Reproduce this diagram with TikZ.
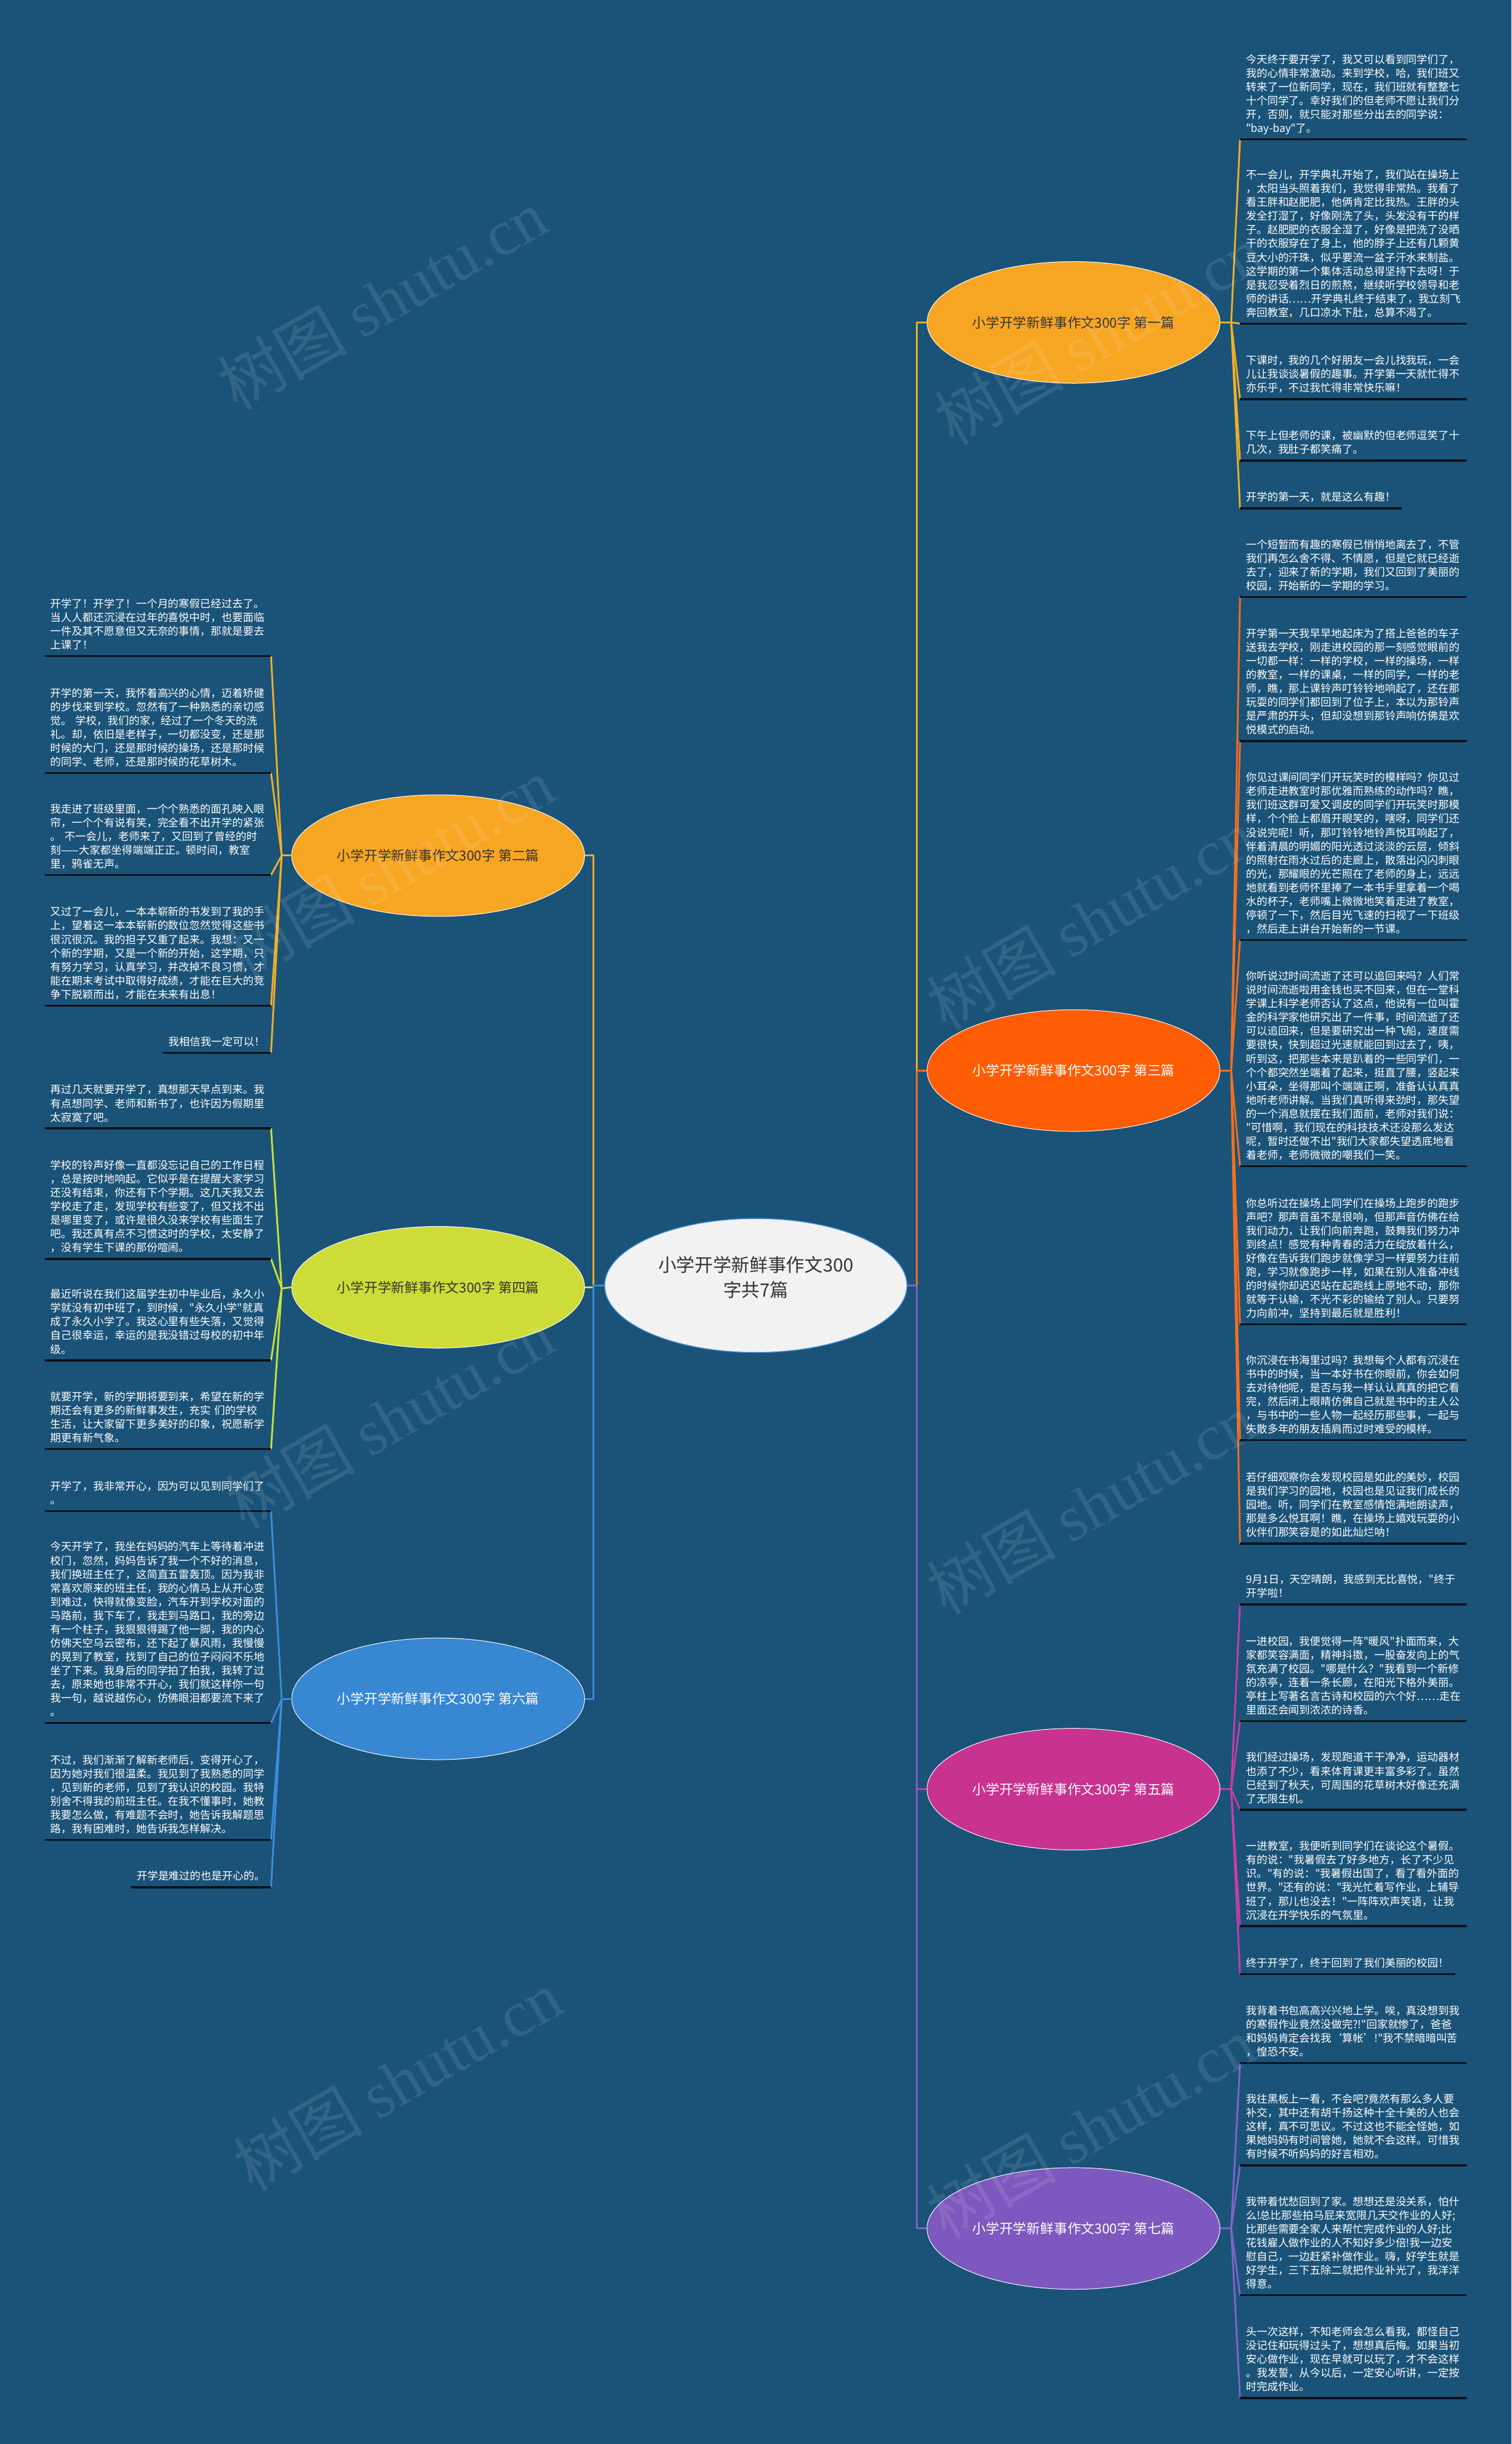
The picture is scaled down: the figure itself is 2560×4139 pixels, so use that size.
\documentclass[tikz,border=0pt]{standalone}
\usepackage{fontspec}
\setmainfont{Noto Sans CJK SC}[Ligatures=TeXOff]
\newfontfamily\wmlatin{Liberation Serif}
\usetikzlibrary{shapes.geometric}

\definecolor{bgblue}{RGB}{27,83,120}
\definecolor{ink}{RGB}{10,18,26}
\definecolor{rootfill}{RGB}{242,242,242}
\definecolor{rootline}{RGB}{60,140,215}
\definecolor{darktext}{RGB}{51,51,51}
\definecolor{fillA}{RGB}{247,166,35}
\definecolor{fillC}{RGB}{255,93,5}
\definecolor{fillD}{RGB}{205,220,57}
\definecolor{fillE}{RGB}{200,50,145}
\definecolor{fillF}{RGB}{55,135,210}
\definecolor{fillG}{RGB}{125,88,190}
\definecolor{lineA}{RGB}{240,175,40}
\definecolor{lineC}{RGB}{245,110,30}
\definecolor{lineD}{RGB}{200,225,60}
\definecolor{lineE}{RGB}{200,60,165}
\definecolor{lineF}{RGB}{60,140,220}
\definecolor{lineG}{RGB}{125,100,200}

\begin{document}
\begin{tikzpicture}[x=1pt, y=-1pt,
  leaf/.style={text=white, align=left, text width=363pt, inner xsep=10pt, inner ysep=7pt,
    font=\fontsize{18.1}{23.3}\selectfont, execute at end node={\rule[-5pt]{0pt}{5pt}}},
  leafone/.style={text=white, inner xsep=10pt, inner ysep=7pt,
    font=\fontsize{18.1}{23.3}\selectfont, execute at end node={\rule[-5pt]{0pt}{5pt}}},
  branch/.style={ellipse, draw=white, line width=1pt, minimum width=496pt, minimum height=206pt,
    inner sep=0pt, font=\fontsize{23}{27}\selectfont},
  root/.style={ellipse, draw=rootline, line width=1.5pt, fill=rootfill, text=darktext,
    minimum width=512pt, minimum height=227pt, align=center, font=\fontsize{31}{42}\selectfont,
    execute at end node={\rule[-30pt]{0pt}{30pt}}},
  conn/.style={line width=3pt, line join=round},
  uline/.style={line width=3.5pt, draw=ink},
  wmark/.style={rotate=30, text=white, opacity=0.1, font=\fontsize{110}{110}\selectfont}
]

  % --- canvas ---
  \useasboundingbox (0,0) rectangle (2560,4139);
  \fill[bgblue] (0,0) rectangle (2560,4139);

  % --- root and branches ---
  \node[root] (root) at (1280,2177) {小学开学新鲜事作文300\\字共7篇};

  \node[branch, fill=fillA, text=darktext] (b1) at (1818,546)  {小学开学新鲜事作文300字 第一篇};
  \node[branch, fill=fillA, text=darktext] (b2) at (742,1449)  {小学开学新鲜事作文300字 第二篇};
  \node[branch, fill=fillC, text=white]    (b3) at (1818,1813) {小学开学新鲜事作文300字 第三篇};
  \node[branch, fill=fillD, text=darktext] (b4) at (742,2180)  {小学开学新鲜事作文300字 第四篇};
  \node[branch, fill=fillE, text=white]    (b5) at (1818,3030) {小学开学新鲜事作文300字 第五篇};
  \node[branch, fill=fillF, text=white]    (b6) at (742,2877)  {小学开学新鲜事作文300字 第六篇};
  \node[branch, fill=fillG, text=white]    (b7) at (1818,3774) {小学开学新鲜事作文300字 第七篇};

  % hubs where the leaf lines fan out
  \coordinate (rt) at (1553,2177);
  \coordinate (lt) at (1005,2177);
  \coordinate (h1) at (2085,546);
  \coordinate (h3) at (2085,1813);
  \coordinate (h5) at (2085,3030);
  \coordinate (h7) at (2085,3774);
  \coordinate (h2) at (477,1449);
  \coordinate (h4) at (477,2182);
  \coordinate (h6) at (477,2878);

  % --- 第一篇 ---
  \node[leaf, anchor=south west] (b1a) at (2100,236) {今天终于要开学了，我又可以看到同学们了，\\我的心情非常激动。来到学校，哈，我们班又\\转来了一位新同学，现在，我们班就有整整七\\十个同学了。幸好我们的但老师不愿让我们分\\开，否则，就只能对那些分出去的同学说：\\"bay-bay"了。};
  \node[leaf, anchor=south west] (b1b) at (2100,548) {不一会儿，开学典礼开始了，我们站在操场上\\，太阳当头照着我们，我觉得非常热。我看了\\看王胖和赵肥肥，他俩肯定比我热。王胖的头\\发全打湿了，好像刚洗了头，头发没有干的样\\子。赵肥肥的衣服全湿了，好像是把洗了没晒\\干的衣服穿在了身上，他的脖子上还有几颗黄\\豆大小的汗珠，似乎要流一盆子汗水来制盐。\\这学期的第一个集体活动总得坚持下去呀！于\\是我忍受着烈日的煎熬，继续听学校领导和老\\师的讲话……开学典礼终于结束了，我立刻飞\\奔回教室，几口凉水下肚，总算不渴了。};
  \node[leaf, anchor=south west] (b1c) at (2100,676) {下课时，我的几个好朋友一会儿找我玩，一会\\儿让我谈谈暑假的趣事。开学第一天就忙得不\\亦乐乎，不过我忙得非常快乐嘛！};
  \node[leaf, anchor=south west] (b1d) at (2100,780) {下午上但老师的课，被幽默的但老师逗笑了十\\几次，我肚子都笑痛了。};
  \node[leafone, anchor=south west] (b1e) at (2100,861) {开学的第一天，就是这么有趣！};

  % --- 第三篇 ---
  \node[leaf, anchor=south west] (b3a) at (2100,1011) {一个短暂而有趣的寒假已悄悄地离去了，不管\\我们再怎么舍不得、不情愿，但是它就已经逝\\去了，迎来了新的学期，我们又回到了美丽的\\校园，开始新的一学期的学习。};
  \node[leaf, anchor=south west] (b3b) at (2100,1255) {开学第一天我早早地起床为了搭上爸爸的车子\\送我去学校，刚走进校园的那一刻感觉眼前的\\一切都一样：一样的学校，一样的操场，一样\\的教室，一样的课桌，一样的同学，一样的老\\师，瞧，那上课铃声叮铃铃地响起了，还在那\\玩耍的同学们都回到了位子上，本以为那铃声\\是严肃的开头，但却没想到那铃声响仿佛是欢\\悦模式的启动。};
  \node[leaf, anchor=south west] (b3c) at (2100,1592) {你见过课间同学们开玩笑时的模样吗？你见过\\老师走进教室时那优雅而熟练的动作吗？瞧，\\我们班这群可爱又调皮的同学们开玩笑时那模\\样，个个脸上都眉开眼笑的，嗐呀，同学们还\\没说完呢！听，那叮铃铃地铃声悦耳响起了，\\伴着清晨的明媚的阳光透过淡淡的云层，倾斜\\的照射在雨水过后的走廊上，散落出闪闪刺眼\\的光，那耀眼的光芒照在了老师的身上，远远\\地就看到老师怀里捧了一本书手里拿着一个喝\\水的杯子，老师嘴上微微地笑着走进了教室，\\停顿了一下，然后目光飞速的扫视了一下班级\\，然后走上讲台开始新的一节课。};
  \node[leaf, anchor=south west] (b3d) at (2100,1975) {你听说过时间流逝了还可以追回来吗？人们常\\说时间流逝啦用金钱也买不回来，但在一堂科\\学课上科学老师否认了这点，他说有一位叫霍\\金的科学家他研究出了一件事，时间流逝了还\\可以追回来，但是要研究出一种飞船，速度需\\要很快，快到超过光速就能回到过去了，咦，\\听到这，把那些本来是趴着的一些同学们，一\\个个都突然坐端着了起来，挺直了腰，竖起来\\小耳朵，坐得那叫个端端正啊，准备认认真真\\地听老师讲解。当我们真听得来劲时，那失望\\的一个消息就摆在我们面前，老师对我们说：\\"可惜啊，我们现在的科技技术还没那么发达\\呢，暂时还做不出"我们大家都失望透底地看\\着老师，老师微微的嘲我们一笑。};
  \node[leaf, anchor=south west] (b3e) at (2100,2243) {你总听过在操场上同学们在操场上跑步的跑步\\声吧？那声音虽不是很响，但那声音仿佛在给\\我们动力，让我们向前奔跑，鼓舞我们努力冲\\到终点！感觉有种青春的活力在绽放着什么，\\好像在告诉我们跑步就像学习一样要努力往前\\跑，学习就像跑步一样，如果在别人准备冲线\\的时候你却迟迟站在起跑线上原地不动，那你\\就等于认输，不光不彩的输给了别人。只要努\\力向前冲，坚持到最后就是胜利！};
  \node[leaf, anchor=south west] (b3f) at (2100,2439) {你沉浸在书海里过吗？我想每个人都有沉浸在\\书中的时候，当一本好书在你眼前，你会如何\\去对待他呢，是否与我一样认认真真的把它看\\完，然后闭上眼睛仿佛自己就是书中的主人公\\，与书中的一些人物一起经历那些事，一起与\\失散多年的朋友插肩而过时难受的模样。};
  \node[leaf, anchor=south west] (b3g) at (2100,2614) {若仔细观察你会发现校园是如此的美妙，校园\\是我们学习的园地，校园也是见证我们成长的\\园地。听，同学们在教室感情饱满地朗读声，\\那是多么悦耳啊！瞧，在操场上嬉戏玩耍的小\\伙伴们那笑容是的如此灿烂呐！};

  % --- 第五篇 ---
  \node[leaf, anchor=south west] (b5a) at (2100,2717) {9月1日，天空晴朗，我感到无比喜悦，"终于\\开学啦！};
  \node[leaf, anchor=south west] (b5b) at (2100,2915) {一进校园，我便觉得一阵"暖风"扑面而来，大\\家都笑容满面，精神抖擞，一股奋发向上的气\\氛充满了校园。"哪是什么？"我看到一个新修\\的凉亭，连着一条长廊，在阳光下格外美丽。\\亭柱上写著名言古诗和校园的六个好……走在\\里面还会闻到浓浓的诗香。};
  \node[leaf, anchor=south west] (b5c) at (2100,3065) {我们经过操场，发现跑道干干净净，运动器材\\也添了不少，看来体育课更丰富多彩了。虽然\\已经到了秋天，可周围的花草树木好像还充满\\了无限生机。};
  \node[leaf, anchor=south west] (b5d) at (2100,3262) {一进教室，我便听到同学们在谈论这个暑假。\\有的说："我暑假去了好多地方，长了不少见\\识。"有的说："我暑假出国了，看了看外面的\\世界。"还有的说："我光忙着写作业，上辅导\\班了，那儿也没去！"一阵阵欢声笑语，让我\\沉浸在开学快乐的气氛里。};
  \node[leafone, anchor=south west] (b5e) at (2100,3343) {终于开学了，终于回到了我们美丽的校园！};

  % --- 第七篇 ---
  \node[leaf, anchor=south west] (b7a) at (2100,3494) {我背着书包高高兴兴地上学。唉，真没想到我\\的寒假作业竟然没做完?!"回家就惨了，爸爸\\和妈妈肯定会找我‘算帐’!"我不禁暗暗叫苦\\，惶恐不安。};
  \node[leaf, anchor=south west] (b7b) at (2100,3667) {我往黑板上一看，不会吧?竟然有那么多人要\\补交，其中还有胡千扬这种十全十美的人也会\\这样，真不可思议。不过这也不能全怪她，如\\果她妈妈有时间管她，她就不会这样。可惜我\\有时候不听妈妈的好言相劝。};
  \node[leaf, anchor=south west] (b7c) at (2100,3887) {我带着忧愁回到了家。想想还是没关系，怕什\\么!总比那些拍马屁来宽限几天交作业的人好;\\比那些需要全家人来帮忙完成作业的人好;比\\花钱雇人做作业的人不知好多少倍!我一边安\\慰自己，一边赶紧补做作业。嗨，好学生就是\\好学生，三下五除二就把作业补光了，我洋洋\\得意。};
  \node[leaf, anchor=south west] (b7d) at (2100,4061) {头一次这样，不知老师会怎么看我，都怪自己\\没记住和玩得过头了，想想真后悔。如果当初\\安心做作业，现在早就可以玩了，才不会这样\\。我发誓，从今以后，一定安心听讲，一定按\\时完成作业。};

  % --- 第二篇 ---
  \node[leaf, anchor=south east] (b2a) at (459,1111) {开学了！开学了！一个月的寒假已经过去了。\\当人人都还沉浸在过年的喜悦中时，也要面临\\一件及其不愿意但又无奈的事情，那就是要去\\上课了！};
  \node[leaf, anchor=south east] (b2b) at (459,1309) {开学的第一天，我怀着高兴的心情，迈着矫健\\的步伐来到学校。忽然有了一种熟悉的亲切感\\觉。 学校，我们的家，经过了一个冬天的洗\\礼。却，依旧是老样子，一切都没变，还是那\\时候的大门，还是那时候的操场，还是那时候\\的同学、老师，还是那时候的花草树木。};
  \node[leaf, anchor=south east] (b2c) at (459,1482) {我走进了班级里面，一个个熟悉的面孔映入眼\\帘，一个个有说有笑，完全看不出开学的紧张\\。 不一会儿，老师来了，又回到了曾经的时\\刻——大家都坐得端端正正。顿时间，教室\\里，鸦雀无声。};
  \node[leaf, anchor=south east] (b2d) at (459,1703) {又过了一会儿，一本本崭新的书发到了我的手\\上，望着这一本本崭新的数位忽然觉得这些书\\很沉很沉。我的担子又重了起来。我想：又一\\个新的学期，又是一个新的开始，这学期，只\\有努力学习，认真学习，并改掉不良习惯，才\\能在期末考试中取得好成绩，才能在巨大的竞\\争下脱颖而出，才能在未来有出息！};
  \node[leafone, anchor=south east] (b2e) at (459,1783) {我相信我一定可以！};

  % --- 第四篇 ---
  \node[leaf, anchor=south east] (b4a) at (459,1911) {再过几天就要开学了，真想那天早点到来。我\\有点想同学、老师和新书了，也许因为假期里\\太寂寞了吧。};
  \node[leaf, anchor=south east] (b4b) at (459,2132) {学校的铃声好像一直都没忘记自己的工作日程\\，总是按时地响起。它似乎是在提醒大家学习\\还没有结束，你还有下个学期。这几天我又去\\学校走了走，发现学校有些变了，但又找不出\\是哪里变了，或许是很久没来学校有些面生了\\吧。我还真有点不习惯这时的学校，太安静了\\，没有学生下课的那份喧闹。};
  \node[leaf, anchor=south east] (b4c) at (459,2304) {最近听说在我们这届学生初中毕业后，永久小\\学就没有初中班了，到时候，"永久小学"就真\\成了永久小学了。我这心里有些失落，又觉得\\自己很幸运，幸运的是我没错过母校的初中年\\级。};
  \node[leaf, anchor=south east] (b4d) at (459,2454) {就要开学，新的学期将要到来，希望在新的学\\期还会有更多的新鲜事发生，充实 们的学校\\生活，让大家留下更多美好的印象，祝愿新学\\期更有新气象。};

  % --- 第六篇 ---
  \node[leaf, anchor=south east] (b6a) at (459,2559) {开学了，我非常开心，因为可以见到同学们了\\。};
  \node[leaf, anchor=south east] (b6b) at (459,2918) {今天开学了，我坐在妈妈的汽车上等待着冲进\\校门，忽然，妈妈告诉了我一个不好的消息，\\我们换班主任了，这简直五雷轰顶。因为我非\\常喜欢原来的班主任，我的心情马上从开心变\\到难过，快得就像变脸，汽车开到学校对面的\\马路前，我下车了，我走到马路口，我的旁边\\有一个柱子，我狠狠得踢了他一脚，我的内心\\仿佛天空乌云密布，还下起了暴风雨，我慢慢\\的晃到了教室，找到了自己的位子闷闷不乐地\\坐了下来。我身后的同学拍了拍我，我转了过\\去，原来她也非常不开心，我们就这样你一句\\我一句，越说越伤心，仿佛眼泪都要流下来了\\。};
  \node[leaf, anchor=south east] (b6c) at (459,3116) {不过，我们渐渐了解新老师后，变得开心了，\\因为她对我们很温柔。我见到了我熟悉的同学\\，见到新的老师，见到了我认识的校园。我特\\别舍不得我的前班主任。在我不懂事时，她教\\我要怎么做，有难题不会时，她告诉我解题思\\路，我有困难时，她告诉我怎样解决。};
  \node[leafone, anchor=south east] (b6d) at (459,3196) {开学是难过的也是开心的。};

  % --- root to branches ---
  \draw[conn, lineA] (root.east) -- (rt) |- (b1.west);
  \draw[conn, lineC] (root.east) -- (rt) |- (b3.west);
  \draw[conn, lineE] (root.east) -- (rt) |- (b5.west);
  \draw[conn, lineG] (root.east) -- (rt) |- (b7.west);
  \draw[conn, lineA] (root.west) -- (lt) |- (b2.east);
  \draw[conn, lineD] (root.west) -- (lt) |- (b4.east);
  \draw[conn, lineF] (root.west) -- (lt) |- (b6.east);

  % --- branches to leaves (right side: left end of underline) ---
  \draw[conn, lineA] (b1.east) -- (h1);
  \foreach \n in {a,b,c,d,e} \draw[conn, lineA] (h1) -- (b1\n.south west);
  \draw[conn, lineC] (b3.east) -- (h3);
  \foreach \n in {a,b,c,d,e,f,g} \draw[conn, lineC] (h3) -- (b3\n.south west);
  \draw[conn, lineE] (b5.east) -- (h5);
  \foreach \n in {a,b,c,d,e} \draw[conn, lineE] (h5) -- (b5\n.south west);
  \draw[conn, lineG] (b7.east) -- (h7);
  \foreach \n in {a,b,c,d} \draw[conn, lineG] (h7) -- (b7\n.south west);

  % left side: right end of underline
  \draw[conn, lineA] (b2.west) -- (h2);
  \foreach \n in {a,b,c,d,e} \draw[conn, lineA] (h2) -- (b2\n.south east);
  \draw[conn, lineD] (b4.west) -- (h4);
  \foreach \n in {a,b,c,d} \draw[conn, lineD] (h4) -- (b4\n.south east);
  \draw[conn, lineF] (b6.west) -- (h6);
  \foreach \n in {a,b,c,d} \draw[conn, lineF] (h6) -- (b6\n.south east);

  % --- underlines ---
  \foreach \n in {b1a,b1b,b1c,b1d,b1e,b3a,b3b,b3c,b3d,b3e,b3f,b3g,b5a,b5b,b5c,b5d,b5e,
                  b7a,b7b,b7c,b7d,b2a,b2b,b2c,b2d,b2e,b4a,b4b,b4c,b4d,b6a,b6b,b6c,b6d}
    \draw[uline] (\n.south west) -- (\n.south east);

  % --- watermark ---
  \foreach \wx/\wy [count=\i] in {647/507, 660/1470, 660/2402, 673/3523,
                                  1860/567, 1847/1557, 1847/2547, 1847/3602}
    \node[wmark] (wm\i) at (\wx,\wy) {树图 {\wmlatin shutu.cn}};

\end{tikzpicture}
\end{document}
